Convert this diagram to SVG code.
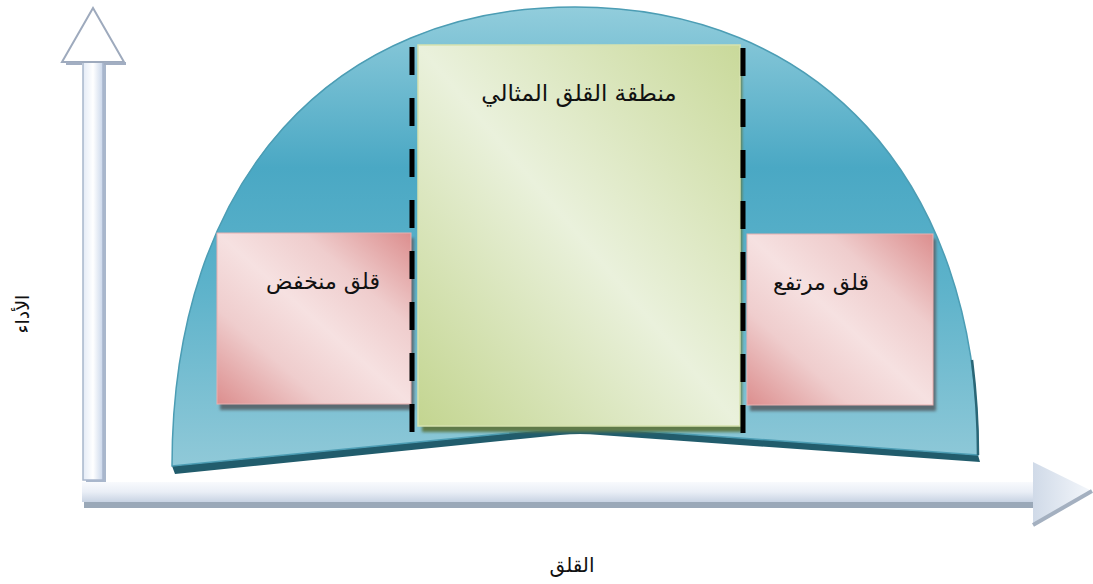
<svg xmlns="http://www.w3.org/2000/svg" width="1093" height="584" viewBox="0 0 1093 584">
  <defs>
    <linearGradient id="domeGrad" x1="0" y1="0" x2="0" y2="1">
      <stop offset="0" stop-color="#92cddc"/>
      <stop offset="0.35" stop-color="#4aa8c4"/>
      <stop offset="0.6" stop-color="#5cb2ca"/>
      <stop offset="1" stop-color="#90c9d8"/>
    </linearGradient>
    <linearGradient id="greenGrad" x1="0" y1="1" x2="1" y2="0">
      <stop offset="0" stop-color="#c3d590"/>
      <stop offset="0.5" stop-color="#eaf1dc"/>
      <stop offset="1" stop-color="#c9d99a"/>
    </linearGradient>
    <linearGradient id="redGrad" x1="0" y1="1" x2="1" y2="0">
      <stop offset="0" stop-color="#dc8e8e"/>
      <stop offset="0.28" stop-color="#efcdcd"/>
      <stop offset="0.5" stop-color="#f6e1e1"/>
      <stop offset="0.72" stop-color="#efcdcd"/>
      <stop offset="1" stop-color="#dc8e8e"/>
    </linearGradient>
    <linearGradient id="vShaft" x1="0" y1="0" x2="1" y2="0">
      <stop offset="0" stop-color="#e4ebf6"/>
      <stop offset="0.5" stop-color="#ffffff"/>
      <stop offset="1" stop-color="#c9d6ea"/>
    </linearGradient>
    <linearGradient id="hShaft" x1="0" y1="0" x2="0" y2="1">
      <stop offset="0" stop-color="#f8fafd"/>
      <stop offset="0.5" stop-color="#e9eef6"/>
      <stop offset="1" stop-color="#c8d3e3"/>
    </linearGradient>
    <linearGradient id="hHead" x1="0" y1="0" x2="1" y2="0">
      <stop offset="0" stop-color="#d0dae8"/>
      <stop offset="1" stop-color="#f4f7fb"/>
    </linearGradient>
    <filter id="blur" x="-10%" y="-10%" width="120%" height="120%">
      <feGaussianBlur stdDeviation="1.5"/>
    </filter>
  </defs>
  <style>
    .lbl { font-family: "DejaVu Sans", "Noto Sans", sans-serif; fill: #111; text-anchor: middle; }
    .dash { stroke: #000; stroke-width: 5; stroke-dasharray: 28 23; fill: none; }
    .shadow { fill: #5a6a72; filter: url(#blur); }
  </style>
  <rect width="1093" height="584" fill="#ffffff"/>

  <g id="axes">
    <!-- Y axis arrow -->
    <rect x="86" y="62" width="20" height="420" fill="#a9b7cc"/>
    <rect x="83" y="58" width="20" height="422" fill="url(#vShaft)" stroke="#a8b6cc" stroke-width="1.5"/>
    <path d="M62,62 L93,8 L124,62 Z" fill="#ffffff" stroke="#9eaabd" stroke-width="2"/>
    <rect x="66" y="62" width="16" height="3" fill="#a2aec2"/>
    <rect x="104" y="62" width="22" height="3" fill="#a2aec2"/>
    <!-- X axis arrow -->
    <rect x="84" y="500" width="950" height="8" fill="#9aa8b8"/>
    <rect x="82" y="482" width="952" height="20" fill="url(#hShaft)"/>
    <path d="M1033,462 L1092,491 L1033,525 Z" fill="url(#hHead)"/>
    <path d="M1092,491 L1033,525" stroke="#a4b0c0" stroke-width="4" fill="none"/>
  </g>

  <g id="dome">
    <path d="M175,474 L560,435 Q580,433 600,435 L980,462 L978,455 L600,428 Q580,426 560,428 L172,466 Z" fill="#215c6c"/>
    <path d="M172,466 C172,176 335,7 575,7 C815,7 978,176 978,455 L600,428 Q580,426 560,428 Z" fill="url(#domeGrad)" stroke="#4c9db4" stroke-width="1.5"/>
    <path d="M972,360 C977,400 978,430 978,455" stroke="#2a6676" stroke-width="2.5" fill="none"/>
  </g>

  <g id="node-low">
    <rect x="220" y="238" width="194" height="172" class="shadow"/>
    <rect x="217" y="233" width="194" height="171" fill="url(#redGrad)" stroke="#e8b0b0" stroke-width="1"/>
    <text class="lbl" x="323" y="289" font-size="22">قلق منخفض</text>
  </g>

  <g id="node-high">
    <rect x="750" y="239" width="186" height="172" class="shadow"/>
    <rect x="747" y="234" width="186" height="171" fill="url(#redGrad)" stroke="#e8b0b0" stroke-width="1"/>
    <text class="lbl" x="821" y="290" font-size="22">قلق مرتفع</text>
  </g>

  <g id="node-optimal">
    <rect x="422" y="50" width="320" height="382" fill="#5f7a4a" filter="url(#blur)"/>
    <rect x="418" y="45" width="322" height="381" fill="url(#greenGrad)" stroke="#d6e2ae" stroke-width="1.5"/>
    <text class="lbl" x="579" y="101" font-size="23">منطقة القلق المثالي</text>
  </g>

  <g id="connectors">
    <line class="dash" x1="412" y1="47" x2="412" y2="433"/>
    <line class="dash" x1="743" y1="48" x2="743" y2="434"/>
  </g>

  <g id="axis-labels">
    <text class="lbl" x="572" y="572" font-size="20">القلق</text>
    <text class="lbl" transform="translate(29,314) rotate(-90)" font-size="19">الأداء</text>
  </g>
</svg>
